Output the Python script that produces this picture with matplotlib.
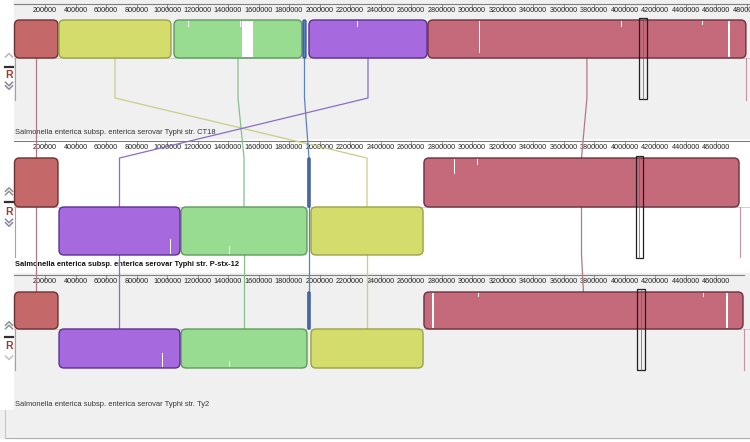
import matplotlib.pyplot as plt
from matplotlib.patches import FancyBboxPatch, Rectangle

# genomes, top to bottom
genome_names = ["Salmonella enterica subsp. enterica serovar Typhi str. CT18",
                "Salmonella enterica subsp. enterica serovar Typhi str. P-stx-12",
                "Salmonella enterica subsp. enterica serovar Typhi str. Ty2"]
genome_lengths = [4796000, 4757000, 4783000]

# locally collinear blocks (same order in every genome)
lcb_fill = ["#c5686a", "#d4dd6c", "#98dc92", "#5b7ec2", "#a66ade", "#c46a7b"]
lcb_edge = ["#6e3030", "#9aa248", "#5f9a5e", "#3a5a90", "#5c3090", "#6e3040"]
lcb_line = ["#b07a80", "#c9cd86", "#86c08c", "#5a82c0", "#8c6cc8", "#b07a86"]

ct18_start = [0, 292000, 1046000, 1892000, 1931000, 2711000]
ct18_end = [285000, 1026000, 1885000, 1911000, 2705000, 4796000]
ct18_rev = [False, False, False, False, False, False]

pstx_start = [0, 1944000, 1092000, 1924000, 292000, 2685000]
pstx_end = [285000, 2679000, 1918000, 1938000, 1085000, 4751000]
pstx_rev = [False, True, True, False, True, False]

ty2_start = [0, 1944000, 1092000, 1924000, 292000, 2685000]
ty2_end = [285000, 2679000, 1918000, 1938000, 1085000, 4777000]
ty2_rev = [False, True, True, False, True, False]

starts = [ct18_start, pstx_start, ty2_start]
ends = [ct18_end, pstx_end, ty2_end]
revs = [ct18_rev, pstx_rev, ty2_rev]

# unaligned notches inside blocks: genome, lcb, position, width, depth fraction
gap_genome = [0, 0, 0, 0, 0, 0, 0, 0, 1, 1, 1, 1, 2, 2, 2, 2, 2, 2]
gap_lcb = [2, 2, 4, 5, 5, 5, 5, 2, 5, 5, 4, 2, 5, 5, 5, 5, 4, 2]
gap_pos = [1490000, 1138000, 2246000, 3046000, 3977000, 4508000, 4677000, 1480000,
           2882000, 3033000, 1020000, 1406000,
           2738000, 3039000, 4514000, 4665000, 967000, 1406000]
gap_width = [76000, 5000, 5000, 7000, 5000, 5000, 13000, 5000,
             6000, 5000, 7000, 5000,
             12000, 5000, 5000, 13000, 7000, 5000]
gap_depth = [1.0, 0.2, 0.2, 0.9, 0.2, 0.15, 1.0, 0.2,
             0.35, 0.15, 0.35, 0.2,
             1.0, 0.15, 0.15, 1.0, 0.4, 0.2]

cursor_start = [4095000, 4075000, 4082000]
cursor_end = [4148000, 4121000, 4134000]

tick_values = list(range(200000, 4800001, 200000))

# layout in pixels (y from top)
X0_PX = 14.5
BP_PER_PX = 1e6 / 152.5
axis_y = [4, 141, 275]
top_y = [20, 158, 292]
mid_y = [58, 207, 329]
bot_y = [98, 255, 368]
name_y = [132, 265, 405]
ctrl_y = [(55, 67, 75, 86), (191, 202, 212, 223), (325, 337, 346, 358)]
cursor_y = [(18, 99), (156, 258), (289, 370)]


def px(xp):
    return (xp - X0_PX) * BP_PER_PX


fig = plt.figure(figsize=(7.5, 4.42), dpi=100)
ax = fig.add_axes([0, 0, 1, 1])
ax.set_xlim(px(0), px(750))
ax.set_ylim(442, 0)
ax.axis("off")

font = "Liberation Sans"

# backgrounds
ax.add_patch(Rectangle((px(0), 0), px(750) - px(0), 442, color="white", zorder=0))
ax.add_patch(Rectangle((px(14), 0), px(750) - px(14), 138, color="#f0f0f0", zorder=0))
ax.add_patch(Rectangle((px(14), 273), px(750) - px(14), 165, color="#f0f0f0", zorder=0))
ax.add_patch(Rectangle((px(0), 410), px(750) - px(0), 28, color="#f0f0f0", zorder=0))
ax.plot([px(5), px(750)], [438, 438], color="#b0b0b0", lw=0.8, zorder=1)
ax.plot([px(5), px(5)], [410, 438], color="#c8c8c8", lw=0.8, zorder=1)

R = 5 * BP_PER_PX
for g in range(3):
    # ruler
    right = px(750) if g < 2 else genome_lengths[g]
    ax.plot([px(14), right], [axis_y[g], axis_y[g]], color="#808080", lw=0.8, zorder=2)
    for v in tick_values:
        if v > genome_lengths[g] + 10000:
            continue
        ax.plot([v, v], [axis_y[g], axis_y[g] + 5], color="#707070", lw=0.5, zorder=3)
        ax.text(v, axis_y[g] + 6.5, str(v), fontsize=5.2, family=font, color="#202020",
                ha="center", va="center", zorder=3)
    # centre line
    ax.plot([px(14), px(750)], [mid_y[g], mid_y[g]], color="#c8c8c8", lw=0.6, zorder=1)
    # genome end markers
    low = bot_y[g] + 2
    for x in (0, genome_lengths[g]):
        ax.plot([x, x], [mid_y[g], low], color="#c890a0", lw=0.8, zorder=2)
    # name
    ax.text(px(15), name_y[g], genome_names[g], fontsize=5.4, family=font,
            color="#111111" if g == 1 else "#333333",
            fontweight="bold" if g == 1 else "normal", ha="left", va="center", zorder=3)
    # control strip
    cu, cm, cr, cd = ctrl_y[g]
    cx = px(9)
    w = 3.5 * BP_PER_PX
    n_up = 1 if g == 0 else 2
    n_down = 1 if g == 2 else 2
    up_col = "#b8b8b8" if g == 0 else "#909090"
    down_col = "#c0c0c0" if g == 2 else "#8888a0"
    for i in range(n_up):
        yy = cu + i * 3.5 - (n_up - 1) * 1.75
        ax.plot([cx - w, cx, cx + w], [yy + 2, yy - 1.5, yy + 2], color=up_col, lw=1.1, zorder=3)
    ax.plot([cx - w, cx + w], [cm, cm], color="#303030", lw=1.6, zorder=3)
    ax.text(cx, cr, "R", fontsize=7.5, family=font, fontweight="bold", color="#9a3c32",
            ha="center", va="center", zorder=3)
    for i in range(n_down):
        yy = cd + i * 3.5 - (n_down - 1) * 1.75
        ax.plot([cx - w, cx, cx + w], [yy - 2, yy + 1.5, yy - 2], color=down_col, lw=1.1, zorder=3)

    # blocks
    for k in range(len(lcb_fill)):
        s, e = starts[g][k], ends[g][k]
        y0, y1 = (mid_y[g], bot_y[g]) if revs[g][k] else (top_y[g], mid_y[g])
        r = min(R, (e - s) / 2)
        style = "round,pad=0,rounding_size=%f" % r
        ax.add_patch(FancyBboxPatch((s, y0), e - s, y1 - y0, boxstyle=style,
                                    mutation_aspect=1 / BP_PER_PX, facecolor=lcb_fill[k],
                                    edgecolor="none", zorder=4))
        ax.add_patch(FancyBboxPatch((s, y0), e - s, y1 - y0, boxstyle=style,
                                    mutation_aspect=1 / BP_PER_PX, facecolor="none",
                                    edgecolor=lcb_edge[k], lw=1.0, zorder=6))

for i in range(len(gap_pos)):
    g, k = gap_genome[i], gap_lcb[i]
    y0, y1 = (mid_y[g], bot_y[g]) if revs[g][k] else (top_y[g], mid_y[g])
    h = (y1 - y0) * gap_depth[i]
    yy = y1 - h if revs[g][k] else y0
    ax.add_patch(Rectangle((gap_pos[i], yy + 0.8), gap_width[i], h - 1.6,
                           facecolor="white", edgecolor="none", zorder=5))

# connecting lines between block midpoints
for k in range(len(lcb_fill)):
    mids = [(starts[g][k] + ends[g][k]) / 2 for g in range(3)]
    blk_top = [mid_y[g] if revs[g][k] else top_y[g] for g in range(3)]
    blk_bot = [bot_y[g] if revs[g][k] else mid_y[g] for g in range(3)]
    for g in range(2):
        xs = [mids[g], mids[g], mids[g + 1], mids[g + 1]]
        ys = [blk_bot[g], bot_y[g], top_y[g + 1], blk_top[g + 1]]
        ax.plot(xs, ys, color=lcb_line[k], lw=0.9, zorder=3)

# cursor boxes
for g in range(3):
    ya, yb = cursor_y[g]
    ax.add_patch(Rectangle((cursor_start[g], ya), cursor_end[g] - cursor_start[g], yb - ya,
                           facecolor="none", edgecolor="#202020", lw=0.9, zorder=7))
    ax.plot([(cursor_start[g] + cursor_end[g]) / 2] * 2, [ya, yb], color="#606060",
            lw=0.5, zorder=7)

fig.savefig("out.png", dpi=100)
